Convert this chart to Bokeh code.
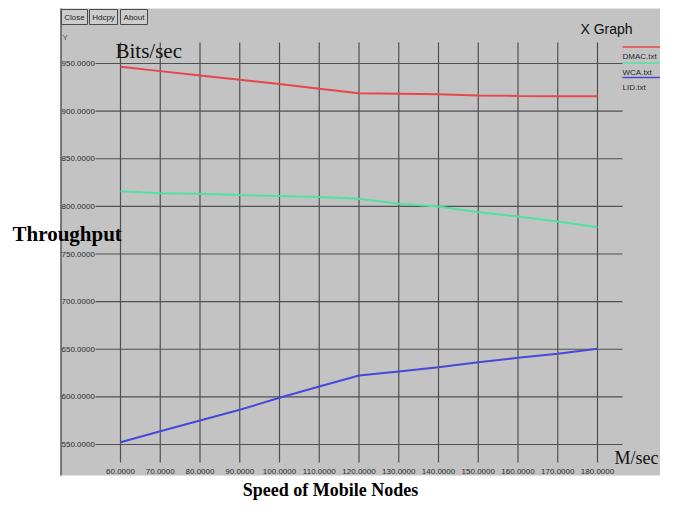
from bokeh.plotting import figure
from bokeh.models import Range1d
from bokeh.core.properties import value
from bokeh.embed import file_html
from bokeh.resources import INLINE

# ---- data ----
speeds = [60, 70, 80, 90, 100, 110, 120, 130, 140, 150, 160, 170, 180]
dmac = [946.5, 942.0, 937.5, 933.0, 928.5, 923.5, 918.8, 918.3, 917.8, 916.5, 916.0, 915.7, 915.5]
wca = [815.9, 813.8, 813.2, 811.9, 810.9, 809.8, 808.1, 802.7, 799.9, 793.9, 789.4, 784.1, 778.1]
lid = [552.4, 564.0, 575.2, 586.4, 599.0, 610.9, 622.4, 626.6, 631.2, 636.4, 641.0, 645.2, 650.5]
series_names = ["DMAC.txt", "WCA.txt", "LID.txt"]
series_colors = ["#e8464a", "#4fe3a0", "#4848d8"]
x_ticks = [60, 70, 80, 90, 100, 110, 120, 130, 140, 150, 160, 170, 180]
y_ticks = [550, 600, 650, 700, 750, 800, 850, 900, 950]
buttons = ["Close", "Hdcpy", "About"]

# ---- layout (picture pixels) ----
W, H = 660, 502
OFF = 0
X0_PX, X1_PX = 120.0, 597.0   # pixel of x=60 and x=180
Y0_PX, Y1_PX = 63.0, 444.0    # pixel of y=950 and y=550
XA, XB = x_ticks[0], x_ticks[-1]
YA, YB = y_ticks[-1], y_ticks[0]


def px2x(px):
    return XA + (px - X0_PX) * (XB - XA) / (X1_PX - X0_PX)


def px2y(py):
    return YA - (py - Y0_PX) * (YA - YB) / (Y1_PX - Y0_PX)


p = figure(width=W, height=H, output_backend="svg", toolbar_location=None,
           x_axis_location=None, y_axis_location=None, min_border=0,
           x_range=Range1d(px2x(OFF), px2x(OFF + W)),
           y_range=Range1d(px2y(OFF + H), px2y(OFF)))
p.outline_line_color = None
p.xgrid.visible = False
p.ygrid.visible = False
p.background_fill_color = "white"
p.border_fill_color = "white"

SANS = value("Liberation Sans")
SERIF = value("Liberation Serif")

# gray panel
p.quad(left=[px2x(60)], right=[px2x(660)], top=[px2y(8)], bottom=[px2y(475)],
       fill_color="#c3c3c3", line_color=None)
# left edge line
p.segment(x0=[px2x(60.5)], y0=[px2y(8)], x1=[px2x(60.5)], y1=[px2y(475)],
          line_color="#3c3c3c", line_width=1.2)

# grid
p.segment(x0=[px2x(95)] * len(y_ticks), y0=y_ticks, x1=[px2x(622)] * len(y_ticks), y1=y_ticks,
          line_color="#505050", line_width=1.2)
p.segment(x0=x_ticks, y0=[px2y(42)] * len(x_ticks), x1=x_ticks, y1=[px2y(462)] * len(x_ticks),
          line_color="#505050", line_width=1.2)

# tick labels
p.text(x=[px2x(61)] * len(y_ticks), y=y_ticks, text=["%.4f" % v for v in y_ticks],
       text_font=SANS, text_font_size=value("8px"), text_color="#2a2a2a",
       text_align="left", text_baseline="middle")
p.text(x=x_ticks, y=[px2y(470.5)] * len(x_ticks), text=["%.4f" % v for v in x_ticks],
       text_font=SANS, text_font_size=value("8px"), text_color="#2a2a2a",
       text_align="center", text_baseline="middle")

# series
for vals, col in zip([dmac, wca, lid], series_colors):
    p.line(speeds, vals, line_color=col, line_width=2)

# legend (top right)
leg_line_y = [46.5, 62.5, 77.0]
for name, col, ly in zip(series_names, series_colors, leg_line_y):
    p.segment(x0=[px2x(622)], y0=[px2y(ly)], x1=[px2x(660)], y1=[px2y(ly)],
              line_color=col, line_width=1.5)
    p.text(x=[px2x(622)], y=[px2y(ly + 9.5)], text=[name], text_font=SANS,
           text_font_size=value("8px"), text_color="#2a2a2a",
           text_align="left", text_baseline="alphabetic")

# buttons
btn_left = [61, 89, 120]
btn_right = [87, 117, 147]
p.quad(left=[px2x(v) for v in btn_left], right=[px2x(v) for v in btn_right],
       top=[px2y(9)] * 3, bottom=[px2y(24)] * 3,
       fill_color="#cdcdcd", line_color="#4a4a4a", line_width=1)
p.text(x=[px2x((a + b) / 2) for a, b in zip(btn_left, btn_right)], y=[px2y(16.5)] * 3,
       text=buttons, text_font=SANS, text_font_size=value("8px"), text_color="#222222",
       text_align="center", text_baseline="middle")

# small labels
p.text(x=[px2x(62)], y=[px2y(37)], text=["Y"], text_font=SANS,
       text_font_size=value("8px"), text_color="#555555", text_baseline="alphabetic")
p.text(x=[px2x(580)], y=[px2y(28)], text=["X Graph"], text_font=SANS,
       text_font_size=value("14px"), text_color="#111111", text_baseline="alphabetic")

# axis names (document text)
p.text(x=[px2x(115)], y=[px2y(50)], text=["Bits/sec"], text_font=SERIF,
       text_font_size=value("21px"), text_color="#111111", text_baseline="alphabetic")
p.text(x=[px2x(614)], y=[px2y(457)], text=["M/sec"], text_font=SERIF,
       text_font_size=value("18px"), text_color="#111111", text_baseline="alphabetic")
p.text(x=[px2x(12)], y=[px2y(233)], text=["Throughput"], text_font=SERIF,
       text_font_size=value("21px"), text_font_style="bold", text_color="#000000",
       text_baseline="alphabetic")
p.text(x=[px2x(330)], y=[px2y(489)], text=["Speed of Mobile Nodes"], text_font=SERIF,
       text_font_size=value("18px"), text_font_style="bold", text_color="#000000",
       text_align="center", text_baseline="middle")

open("out.html", "w").write(file_html(p, INLINE))
